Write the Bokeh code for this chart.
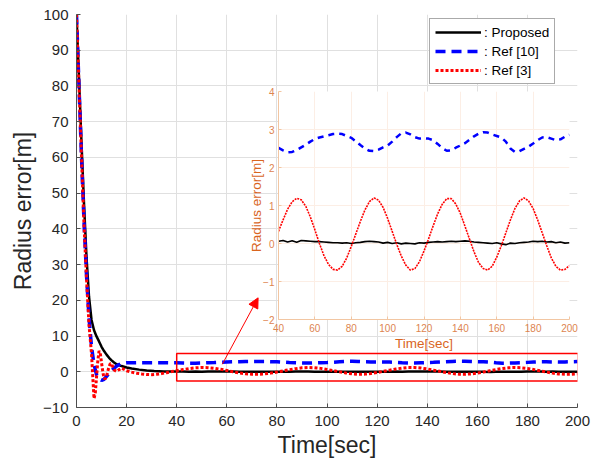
import numpy as np
from bokeh.plotting import figure
from bokeh.models import (Range1d, FixedTicker, Legend, LegendItem,
                          BoxAnnotation, Arrow, NormalHead)
from bokeh.embed import file_html
from bokeh.resources import INLINE

# ---------------- data ----------------
series_labels = [": Proposed", ": Ref [10]", ": Ref [3]"]

# transient part (0 .. 38 s), main plot only
t_prop_early = [0, 1, 2, 3, 4, 5, 6, 7, 8, 9, 10, 11, 12, 13, 14, 15, 16, 18,
                20, 22, 25, 28, 31, 35, 38]
prop_early = [100, 82, 64, 47, 32, 21, 14.5, 11.6, 9.9, 8.5, 7, 5.8, 4.8, 3.9,
              3.2, 2.6, 2.1, 1.6, 1.2, 0.9, 0.6, 0.35, 0.2, 0.1, 0.05]

t_ref10_early = [0, 1, 2, 3, 4, 5, 6, 7, 8, 9, 10, 11, 12, 13, 14, 15, 16, 17,
                 18, 20, 24, 28, 32, 36, 38]
ref10_early = [100, 80, 60, 42, 27, 15, 7, 2, -0.8, -2, -2.4, -2.1, -1.3, -0.5,
               0.3, 1.0, 1.6, 2.0, 2.3, 2.5, 2.55, 2.55, 2.55, 2.55, 2.53]

t_ref3_early = [0, 1, 2, 3, 4, 5,
                5.5, 6, 6.5, 7, 7.5, 8, 8.5, 9, 9.5, 10, 10.5, 11, 11.5, 12,
                12.5, 13, 13.5, 14,
                15, 16, 17, 18, 19, 20,
                22, 24, 26, 28, 30, 32, 34, 36, 38]
ref3_early = [100, 80, 60, 41, 26, 13,
              9, 5, -1.5, -7.5, -6, -1.5, 3, 5.8, 5.2, 2.5, 0, -1.8, -2.0, -1.2,
              0.2, 1.4, 2.3, 2.2,
              0.5, 0.1, 0.6, 1.0, 0.7, 0.3,
              -0.1, -0.4, -0.6, -0.75, -0.8, -0.7, -0.5, -0.25, 0.05]

# steady part (40 .. 200 s, every 2.5 s), shown in main plot and inset
t_ss = np.arange(40, 200.01, 2.5)
prop_ss = [0.06, 0.08, 0.04, 0.07,
           0.03, 0.08, 0.07, 0.06,
           0.05, 0.05, 0.04, 0.03,
           0.02, 0.02, 0.01, 0.02,
           0.00, 0.02, 0.03, 0.05,
           0.06, 0.05, 0.04, 0.01,
           0.03, 0.00, 0.02, -0.01,
           0.01, 0.00, -0.01, 0.02,
           0.01, 0.03, 0.04, 0.05,
           0.04, 0.05, 0.06, 0.05,
           0.06, 0.07, 0.06, 0.04,
           0.03, 0.02, 0.01, 0.00,
           0.02, -0.01, -0.03, 0.01,
           0.00, 0.02, 0.03, 0.04,
           0.06, 0.05, 0.06, 0.04,
           0.05, 0.02, 0.04, 0.01,
           0.02]
ref10_ss = [2.52, 2.45, 2.40, 2.41,
            2.46, 2.53, 2.60, 2.68,
            2.75, 2.79, 2.82, 2.85,
            2.88, 2.89, 2.88, 2.83,
            2.78, 2.69, 2.59, 2.50,
            2.44, 2.43, 2.47, 2.53,
            2.58, 2.68, 2.80, 2.90,
            2.92, 2.87, 2.80, 2.76,
            2.77, 2.76, 2.72, 2.62,
            2.51, 2.44, 2.45, 2.52,
            2.58, 2.64, 2.73, 2.82,
            2.89, 2.93, 2.92, 2.87,
            2.83, 2.79, 2.68, 2.50,
            2.41, 2.43, 2.49, 2.55,
            2.63, 2.72, 2.79, 2.80,
            2.76, 2.72, 2.74, 2.81,
            2.86]
ref3_ss = [0.32, 0.62, 0.90, 1.10,
           1.19, 1.15, 0.98, 0.70,
           0.36, 0.00, -0.32, -0.55,
           -0.68, -0.70, -0.60, -0.38,
           -0.08, 0.25, 0.58, 0.88,
           1.10, 1.20, 1.14, 0.95,
           0.66, 0.32, -0.02, -0.33,
           -0.57, -0.70, -0.66, -0.48,
           -0.20, 0.12, 0.46, 0.78,
           1.03, 1.18, 1.18, 1.04,
           0.79, 0.46, 0.12, -0.22,
           -0.50, -0.66, -0.70, -0.60,
           -0.36, -0.06, 0.28, 0.62,
           0.92, 1.12, 1.20, 1.12,
           0.92, 0.62, 0.28, -0.06,
           -0.38, -0.60, -0.70, -0.68,
           -0.58]

main_x_ticks = [0, 20, 40, 60, 80, 100, 120, 140, 160, 180, 200]
main_y_ticks = [-10, 0, 10, 20, 30, 40, 50, 60, 70, 80, 90, 100]
inset_x_ticks = [40, 60, 80, 100, 120, 140, 160, 180, 200]
inset_y_ticks = [-2, -1, 0, 1, 2, 3, 4]

# zoom box and arrow (data coordinates of the main plot)
zoom_box = dict(left=40, right=200.3, bottom=-2.6, top=5.1)
arrow_from = (58.2, 2.1)
arrow_to = (72.5, 20.7)

FONT = "Liberation Sans"
C_BLACK, C_BLUE, C_RED = "#000000", "#0000FF", "#FF0000"
INSET_TXT = "#D9651E"
INSET_TICK = "#DD8450"
INSET_AXIS = "#F2C6A2"
INSET_GRID = "#FCEEE5"

# ---------------- main figure ----------------
fig = figure(width=599, height=463, x_range=Range1d(0, 200), y_range=Range1d(-10, 100),
             output_backend="svg", toolbar_location=None,
             min_border_left=76, min_border_right=22, min_border_top=14,
             min_border_bottom=56)
fig.outline_line_color = None
fig.border_fill_color = "white"

t_prop = list(t_prop_early) + list(t_ss)
t_ref10 = list(t_ref10_early) + list(t_ss)
t_ref3 = list(t_ref3_early) + list(t_ss)

r_prop = fig.line(t_prop, prop_early + prop_ss, line_color=C_BLACK, line_width=2.5)
r_ref10 = fig.line(t_ref10, ref10_early + ref10_ss, line_color=C_BLUE, line_width=3.5,
                   line_dash="10 6")
r_ref3 = fig.line(t_ref3, ref3_early + ref3_ss, line_color=C_RED, line_width=3,
                  line_dash="3 2")

for ax in (fig.xaxis[0], fig.yaxis[0]):
    ax.axis_line_color = "#4d4d4d"
    ax.major_tick_line_color = "#4d4d4d"
    ax.major_tick_in = 4
    ax.major_tick_out = 0
    ax.minor_tick_line_color = None
    ax.major_label_text_font = FONT
    ax.major_label_text_font_size = "15px"
    ax.major_label_text_color = "#262626"
    ax.axis_label_text_font = FONT
    ax.axis_label_text_font_size = "23px"
    ax.axis_label_text_font_style = "normal"
    ax.axis_label_text_color = "#262626"

fig.xaxis.ticker = FixedTicker(ticks=main_x_ticks)
fig.yaxis.ticker = FixedTicker(ticks=main_y_ticks)
fig.xaxis.axis_label = "Time[sec]"
fig.yaxis.axis_label = "Radius error[m]"
fig.xaxis.major_label_standoff = 8
fig.xaxis.axis_label_standoff = 3
fig.yaxis.major_label_standoff = 8
fig.yaxis.axis_label_standoff = 4
fig.grid.grid_line_color = "#e0e0e0"
fig.grid.grid_line_width = 1

fig.add_layout(BoxAnnotation(fill_color=None, fill_alpha=0, line_color=C_RED,
                             line_alpha=1, line_width=1.5, **zoom_box))
fig.add_layout(Arrow(end=NormalHead(size=10, fill_color=C_RED, line_color=C_RED,
                                    line_width=1),
                     x_start=arrow_from[0], y_start=arrow_from[1],
                     x_end=arrow_to[0], y_end=arrow_to[1],
                     line_color=C_RED, line_width=1))

legend = Legend(items=[LegendItem(label=series_labels[0], renderers=[r_prop]),
                       LegendItem(label=series_labels[1], renderers=[r_ref10]),
                       LegendItem(label=series_labels[2], renderers=[r_ref3])],
                location=(353, 323), margin=0, padding=5, spacing=3,
                glyph_width=46, glyph_height=16, label_height=16, label_standoff=3,
                label_text_font=FONT, label_text_font_size="13.5px",
                label_text_color="#000000",
                border_line_color="#555555", border_line_width=1,
                background_fill_color="white", background_fill_alpha=1)
fig.add_layout(legend, "center")

# ---------------- inset figure ----------------
inset = figure(width=339, height=270, x_range=Range1d(40, 200), y_range=Range1d(-2, 4),
               output_backend="svg", toolbar_location=None,
               min_border_left=38, min_border_right=10, min_border_top=6,
               min_border_bottom=36,
               styles={"position": "absolute", "left": "240px", "top": "85px"})
inset.border_fill_color = None
inset.border_fill_alpha = 0
inset.background_fill_color = "white"
inset.outline_line_color = None

inset.line(t_ss, prop_ss, line_color=C_BLACK, line_width=1.6)
inset.line(t_ss, ref10_ss, line_color=C_BLUE, line_width=2.5, line_dash="6 5")
inset.line(t_ss, ref3_ss, line_color=C_RED, line_width=1.6, line_dash="2 1")

for ax in (inset.xaxis[0], inset.yaxis[0]):
    ax.axis_line_color = INSET_AXIS
    ax.major_tick_line_color = INSET_AXIS
    ax.major_tick_in = 3
    ax.major_tick_out = 0
    ax.minor_tick_line_color = None
    ax.major_label_text_font = FONT
    ax.major_label_text_font_size = "10px"
    ax.major_label_text_color = INSET_TICK
    ax.axis_label_text_font = FONT
    ax.axis_label_text_font_size = "13.5px"
    ax.axis_label_text_font_style = "normal"
    ax.axis_label_text_color = INSET_TXT

inset.xaxis.ticker = FixedTicker(ticks=inset_x_ticks)
inset.yaxis.ticker = FixedTicker(ticks=inset_y_ticks)
inset.xaxis.axis_label = "Time[sec]"
inset.yaxis.axis_label = "Radius error[m]"
inset.xaxis.major_label_standoff = 4
inset.xaxis.axis_label_standoff = 1
inset.yaxis.major_label_standoff = 4
inset.yaxis.axis_label_standoff = -4
inset.grid.grid_line_color = INSET_GRID
inset.grid.grid_line_width = 1

p = [fig, inset]
open("out.html", "w").write(file_html(p, INLINE))
